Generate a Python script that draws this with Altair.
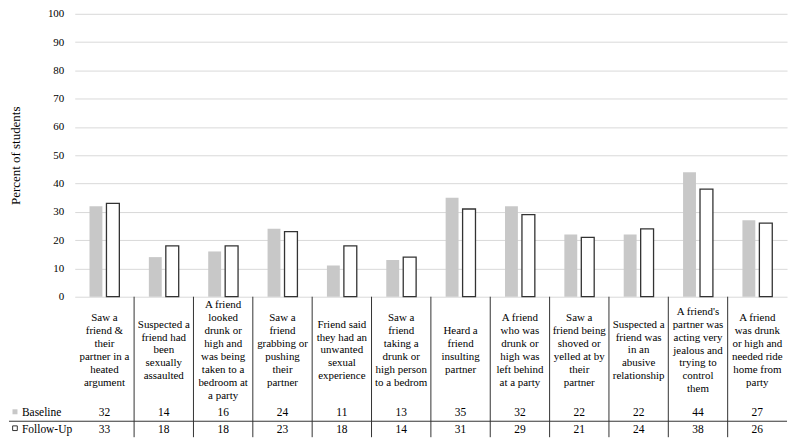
import altair as alt
import pandas as pd

# ---- data ----
label_lines = [
    ["Saw a", "friend &", "their", "partner in a", "heated", "argument"],
    ["Suspected a", "friend had", "been", "sexually", "assaulted"],
    ["A friend", "looked", "drunk or", "high and", "was being", "taken to a", "bedroom at", "a party"],
    ["Saw a", "friend", "grabbing or", "pushing", "their", "partner"],
    ["Friend said", "they had an", "unwanted", "sexual", "experience"],
    ["Saw a", "friend", "taking a", "drunk or", "high person", "to a bedrom"],
    ["Heard a", "friend", "insulting", "partner"],
    ["A friend", "who was", "drunk or", "high was", "left behind", "at a party"],
    ["Saw a", "friend being", "shoved or", "yelled at by", "their", "partner"],
    ["Suspected a", "friend was", "in an", "abusive", "relationship"],
    ["A friend's", "partner was", "acting very", "jealous and", "trying to", "control", "them"],
    ["A friend", "was drunk", "or high and", "needed ride", "home from", "party"],
]
categories = ["\n".join(l) for l in label_lines]
baseline = [32, 14, 16, 24, 11, 13, 35, 32, 22, 22, 44, 27]
followup = [33, 18, 18, 23, 18, 14, 31, 29, 21, 24, 38, 26]
series = ["Baseline", "Follow-Up"]
y_ticks = list(range(0, 101, 10))

FONT = "'Liberation Serif', 'Times New Roman', Times, serif"
GRAY = "#c8c8c8"
DARK = "#333333"

PLOT_H = 284
LABEL_MID = 338
LINE_H = 13

bars_df = pd.DataFrame({
    "category": categories * 2,
    "series": [series[0]] * len(categories) + [series[1]] * len(categories),
    "value": baseline + followup,
})
cat_df = pd.DataFrame({"category": categories, "nlines": [len(l) for l in label_lines]})
sep_df = pd.DataFrame({"category": categories[1:]})
one = pd.DataFrame({"k": [0]})

x_scale = alt.Scale(domain=categories, paddingInner=0, paddingOuter=0)
X = alt.X("category:N", sort=categories, scale=x_scale, axis=None)

bars = alt.Chart(bars_df).mark_bar(strokeWidth=1.3).encode(
    x=X,
    xOffset=alt.XOffset("series:N", sort=series,
                        scale=alt.Scale(domain=series, paddingInner=0.24, paddingOuter=0.87)),
    y=alt.Y("value:Q", scale=alt.Scale(domain=[0, 100], nice=False),
            axis=alt.Axis(values=y_ticks, grid=True, gridColor="#d9d9d9", gridWidth=1,
                          domain=False, ticks=False, tickSize=0, labelPadding=11,
                          labelFont=FONT, labelFontSize=11, labelColor="#000000",
                          title="Percent of students", titleFont=FONT, titleFontSize=13,
                          titleFontWeight="normal", titleColor="#000000",
                          titleX=-59, titleY=PLOT_H / 2, titleBaseline="middle")),
    fill=alt.Fill("series:N", scale=alt.Scale(domain=series, range=[GRAY, "#ffffff"]), legend=None),
    stroke=alt.Stroke("series:N", scale=alt.Scale(domain=series, range=["transparent", DARK]), legend=None),
)

# one text layer per label length so each block is centred vertically
label_layers = []
for n in sorted(set(cat_df["nlines"])):
    label_layers.append(
        alt.Chart(cat_df).transform_filter(alt.datum.nlines == n).mark_text(
            lineBreak="\n", font=FONT, fontSize=11, lineHeight=LINE_H,
            baseline="middle", align="center", color="#000000"
        ).encode(x=X, y=alt.value(LABEL_MID - (n - 1) * LINE_H / 2), text="category:N")
    )

base_df = pd.DataFrame({"category": categories, "value": baseline})
follow_df = pd.DataFrame({"category": categories, "value": followup})

ROW1, ROW2 = 401, 417.5

base_vals = alt.Chart(base_df).mark_text(
    font=FONT, fontSize=11.5, baseline="middle", align="center", color="#000000"
).encode(x=X, y=alt.value(ROW1), text="value:Q")
follow_vals = alt.Chart(follow_df).mark_text(
    font=FONT, fontSize=11.5, baseline="middle", align="center", color="#000000"
).encode(x=X, y=alt.value(ROW2), text="value:Q")

seps = alt.Chart(sep_df).mark_rule(color=DARK, strokeWidth=1).encode(
    x=alt.X("category:N", sort=categories, scale=x_scale, axis=None, bandPosition=0),
    y=alt.value(PLOT_H), y2=alt.value(425),
)
hline = alt.Chart(one).mark_rule(color=DARK, strokeWidth=1).encode(
    x=alt.value(-66), x2=alt.value(715), y=alt.value(409)
)

base_key = alt.Chart(one).mark_square(size=25, color=GRAY, opacity=1).encode(
    x=alt.value(-60), y=alt.value(399.5)
)
follow_key = alt.Chart(one).mark_square(size=22, fill="#ffffff", stroke=DARK, strokeWidth=1, opacity=1).encode(
    x=alt.value(-60), y=alt.value(416)
)
base_txt = alt.Chart(one).mark_text(
    text=series[0], font=FONT, fontSize=11.5, align="left", baseline="middle", color="#000000"
).encode(x=alt.value(-53), y=alt.value(ROW1))
follow_txt = alt.Chart(one).mark_text(
    text=series[1], font=FONT, fontSize=11.5, align="left", baseline="middle", color="#000000"
).encode(x=alt.value(-53), y=alt.value(ROW2))

chart = alt.layer(
    bars, *label_layers, base_vals, follow_vals, seps, hline,
    base_key, follow_key, base_txt, follow_txt
).properties(
    width=715, height=PLOT_H,
    autosize=alt.AutoSizeParams(type="none"),
    padding={"left": 67, "top": 5, "right": 5, "bottom": 145},
    background="#ffffff",
).configure_view(stroke=None)

chart.save("out.html", embed_options={"renderer": "svg", "actions": False})
